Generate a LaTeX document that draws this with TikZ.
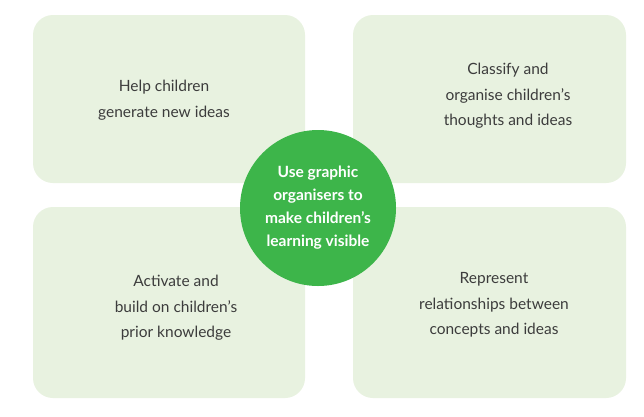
\documentclass[tikz,border=0pt]{standalone}
\usepackage{fontspec}
\setmainfont{Lato}
\usepackage{tikz}
\definecolor{pale}{RGB}{232, 242, 224}
\definecolor{leaf}{RGB}{61, 181, 74}
\definecolor{ink}{RGB}{60, 60, 60}
\tikzset{
  panel/.style={fill=pale, rounded corners=20pt},
  say/.style={align=center, text=ink, font=\fontsize{15.5}{25.5}\selectfont}
}
\begin{document}
\begin{tikzpicture}[x=1pt, y=-1pt]
  \useasboundingbox[fill=white] (0, 0) rectangle (644, 416);

  \fill[panel] (33, 15) rectangle (305, 183);
  \fill[panel] (353, 15) rectangle (626, 183);
  \fill[panel] (33, 207) rectangle (305, 398);
  \fill[panel] (353, 207) rectangle (626, 398);

  \node[say] (help) at (164, 100) {Help children\\generate new ideas};
  \node[say] (sort) at (508, 96) {Classify and\\organise children’s\\thoughts and ideas};
  \node[say] (prior) at (176, 308) {Activate and\\build on children’s\\prior knowledge};
  \node[say] (link) at (494, 305) {Represent\\relationships between\\concepts and ideas};

  \node[circle, fill=leaf, minimum size=156pt, inner sep=0pt, align=center,
        text=white, font=\bfseries\fontsize{15.5}{23}\selectfont]
    (core) at (318, 208) {Use graphic\\organisers to\\make children’s\\learning visible};
\end{tikzpicture}
\end{document}
